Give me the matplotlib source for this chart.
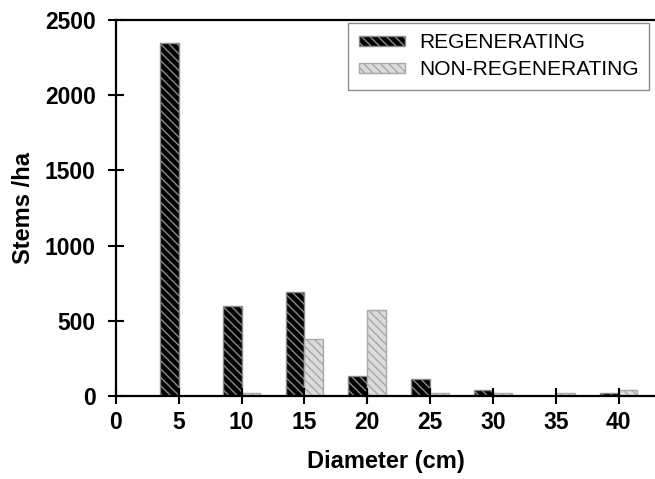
import numpy as np
import matplotlib
matplotlib.use("Agg")
import matplotlib.pyplot as plt

# --- DATA ---
diameters = [5, 10, 15, 20, 25, 30, 35, 40]
regenerating = [2350, 600, 690, 135, 115, 40, 0, 18]
non_regenerating = [0, 18, 380, 572, 18, 18, 18, 42]
x_ticks = [0, 5, 10, 15, 20, 25, 30, 35, 40]
y_ticks = [0, 500, 1000, 1500, 2000, 2500]

plt.rcParams['font.family'] = ['Liberation Sans', 'DejaVu Sans']
plt.rcParams['hatch.linewidth'] = 1.0

fig = plt.figure(figsize=(6.55, 4.79), dpi=100)
ax = fig.add_axes([116 / 655, 1 - 396 / 479, 1 - 116 / 655, 376 / 479])

x = np.array(diameters, dtype=float)
bw = 1.5
ax.bar(x - bw / 2, regenerating, width=bw, color='black', edgecolor='#8a8a8a',
       hatch='\\\\\\\\', linewidth=1.0, label='REGENERATING')
ax.bar(x + bw / 2, non_regenerating, width=bw, color='#dcdcdc', edgecolor='#a8a8a8',
       hatch='\\\\\\\\', linewidth=1.0, label='NON-REGENERATING')

ax.set_xlim(0, 42.9)
ax.set_ylim(0, 2500)
ax.set_xticks(x_ticks)
ax.set_yticks(y_ticks)

for side in ['left', 'bottom', 'top']:
    ax.spines[side].set_linewidth(1.6)
    ax.spines[side].set_color('black')
ax.spines['right'].set_visible(False)

ax.tick_params(axis='both', direction='inout', length=11, width=1.5,
               labelsize=16.5)
ax.tick_params(axis='y', pad=9)
ax.tick_params(axis='x', pad=5.5)
for lab in ax.get_xticklabels() + ax.get_yticklabels():
    lab.set_fontweight('bold')

ax.set_xlabel('Diameter (cm)', fontsize=17, fontweight='bold', labelpad=11)
ax.set_ylabel('Stems /ha', fontsize=17, fontweight='bold', labelpad=7)

leg = ax.legend(loc='upper right', bbox_to_anchor=(0.989, 0.992),
                borderaxespad=0, fontsize=15, fancybox=False,
                edgecolor='#8c8c8c', framealpha=1, handlelength=2.2,
                handleheight=0.33, handletextpad=0.7, labelspacing=0.38,
                borderpad=0.5)
leg.get_frame().set_linewidth(1.0)

fig.savefig('out.png', dpi=100)
